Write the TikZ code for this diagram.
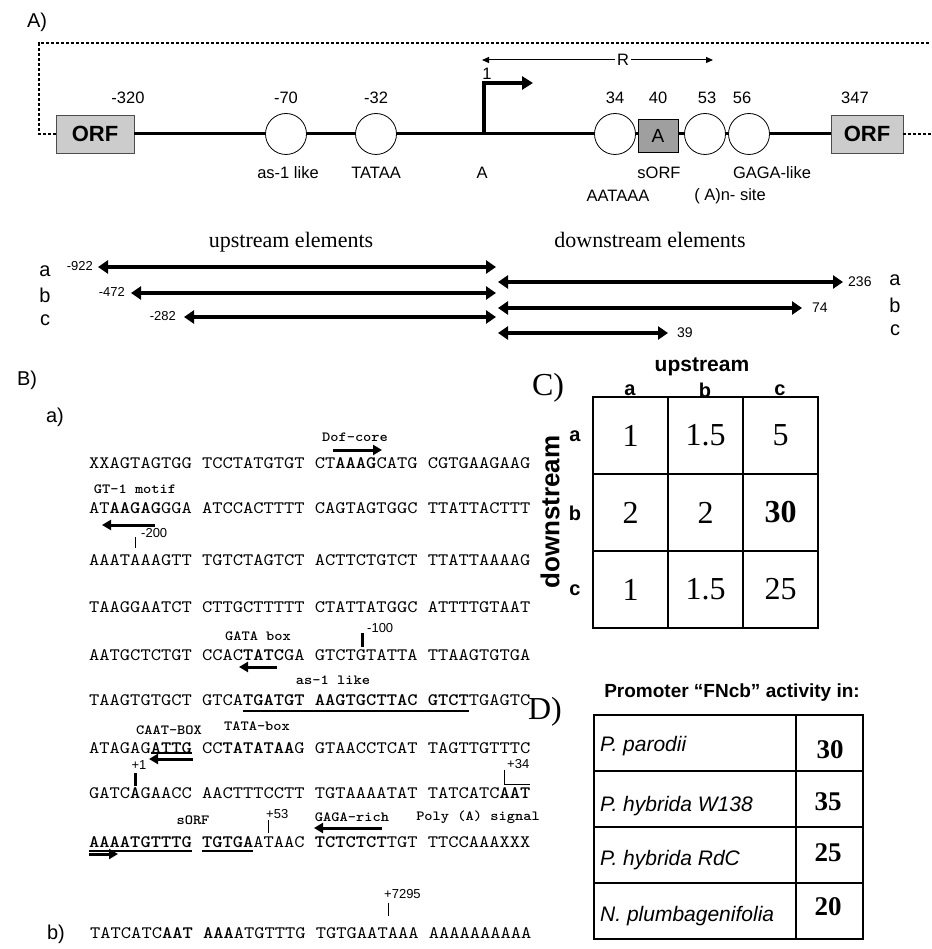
\documentclass[tikz,border=0pt]{standalone}
\usepackage{fontspec}
\setmainfont{Liberation Sans}
\newfontfamily\timesfont{Liberation Serif}
\newfontfamily\seqfont{lmmono10-regular.otf}[BoldFont=lmmonolt10-bold.otf, FakeStretch=1.12]
\usetikzlibrary{arrows.meta}

\newcommand{\setsz}[1]{\fontsize{#1}{#1}\selectfont}
% ascissa della lettera i-esima di una riga di sequenza
\newcommand{\chx}[1]{89+10.26*(#1)}

\begin{document}
\begin{tikzpicture}[x=1pt, y=-1pt,
        % Stile per le etichette dei pannelli
        panel/.style={font=\setsz{20}, inner sep=0pt},
        bigpanel/.style={font=\timesfont\setsz{32}, inner sep=0pt},
        % Stile per i box ORF (grigio chiaro)
        orf/.style={rectangle, draw=gray!60!black, fill=gray!40, font=\bfseries\setsz{22}, minimum width=78pt, minimum height=38pt, inner sep=0pt},
        % Stile per gli elementi del promotore (cerchi bianchi)
        elem/.style={circle, draw=black, fill=white, minimum size=41pt, inner sep=0pt, line width=0.8pt},
        sorfbox/.style={rectangle, draw=black, fill=gray!75, minimum width=40pt, minimum height=33pt, font=\setsz{19}, inner sep=0pt},
        num/.style={font=\setsz{16.5}, inner sep=0pt},
        small/.style={font=\setsz{13}, inner sep=0pt},
        serifhead/.style={font=\timesfont\setsz{22}, inner sep=0pt},
        letter/.style={font=\setsz{20}, inner sep=0pt},
        dashline/.style={line width=1.2pt, dash pattern=on 3pt off 2pt},
        % Frecce
        dbl/.style={line width=4pt, {Triangle[length=10pt,width=13pt]}-{Triangle[length=10pt,width=13pt]}},
        thinarr/.style={line width=1pt, -{Triangle[length=7pt,width=6pt]}},
        startarr/.style={line width=3.5pt, -{Triangle[length=11pt,width=13pt]}},
        % Sequenza (sezione B)
        seq/.style={anchor=west, inner sep=0pt, font=\seqfont\setsz{17.45}},
        motif/.style={inner sep=0pt, font=\seqfont\bfseries\setsz{14}},
        posnum/.style={inner sep=0pt, font=\setsz{13}},
        seqarr/.style={line width=3pt, -{Triangle[length=9pt,width=10pt]}},
        postick/.style={line width=0.8pt},
        boldtick/.style={line width=3pt},
        uline/.style={line width=1.2pt},
        % Tabelle C e D
        cell/.style={rectangle, draw=black, line width=1.3pt, minimum width=75pt, minimum height=77pt, inner sep=0pt, font=\timesfont\setsz{32}},
        hdr/.style={font=\bfseries\setsz{20}, inner sep=0pt},
        dcell/.style={rectangle, draw=black, line width=1.3pt, minimum height=56pt, inner sep=0pt},
        species/.style={anchor=west, font=\itshape\setsz{21}, inner sep=0pt},
        score/.style={font=\timesfont\bfseries\setsz{27}, inner sep=0pt}
    ]
    \useasboundingbox (0,0) rectangle (931,949);

    % --- A) MAPPA DEL GENE ---
    \node[panel] (labA) at (37,22) {A)};
    \node[orf] (orfL) at (95,134) {ORF};
    \node[orf, minimum width=72pt] (orfR) at (867,134) {ORF};
    \draw[line width=3pt] (orfL) -- (orfR);

    % linea tratteggiata
    \coordinate (dBL) at (39,134);
    \coordinate (dTL) at (39,43);
    \coordinate (dTR) at (931,43);
    \coordinate (dR) at (931,134);
    \draw[dashline] (orfL.west) -- (dBL) -- (dTL) -- (dTR);
    \draw[dashline] (orfR.east) -- (dR);

    % elementi
    \node[elem] (as1) at (286,134) {};
    \node[elem] (tata) at (376,134) {};
    \node[elem] (aat) at (615,134) {};
    \node[sorfbox] (sorf) at (658,136) {A};
    \node[elem] (polya) at (705,134) {};
    \node[elem] (gaga) at (749,134) {};

    % inizio della trascrizione
    \coordinate (tss) at (484,134);
    \coordinate (tssTop) at (484,83);
    \coordinate (tssTip) at (533,83);
    \draw[startarr] (tss) -- (tssTop) -- (tssTip);
    \node[num] (one) at (487,74) {1};

    % regione R
    \node[num, fill=white, inner sep=2pt] (R) at (623,60) {R};
    \coordinate (rL) at (482,60);
    \coordinate (rR) at (713,60);
    \draw[thinarr] (R) -- (rL);
    \draw[thinarr] (R) -- (rR);

    % posizioni
    \node[num] (p320) at (128,98) {-320};
    \node[num] (p70) at (286,98) {-70};
    \node[num] (p32) at (376,98) {-32};
    \node[num] (p34) at (615,98) {34};
    \node[num] (p40) at (658,98) {40};
    \node[num] (p53) at (707,98) {53};
    \node[num] (p56) at (742,98) {56};
    \node[num] (p347) at (855,98) {347};

    % nomi degli elementi
    \node[num] (nAs1) at (288,173) {as-1 like};
    \node[num] (nTata) at (376,173) {TATAA};
    \node[num] (nA) at (482,173) {A};
    \node[num] (nSorf) at (659,173) {sORF};
    \node[num] (nGaga) at (772,173) {GAGA-like};
    \node[num] (nAat) at (618,196) {AATAAA};
    \node[num] (nPa) at (730,196) {( A)n- site};

    % --- ELEMENTI UPSTREAM / DOWNSTREAM ---
    \node[serifhead] (upT) at (291,242) {upstream elements};
    \node[serifhead] (dnT) at (650,240) {downstream elements};

    \coordinate (uA1) at (98,267);  \coordinate (uA2) at (496,267);
    \coordinate (uB1) at (131,293); \coordinate (uB2) at (496,293);
    \coordinate (uC1) at (184,317); \coordinate (uC2) at (496,317);
    \draw[dbl] (uA1) -- (uA2);
    \draw[dbl] (uB1) -- (uB2);
    \draw[dbl] (uC1) -- (uC2);
    \node[small, anchor=east] (u922) at (93,266) {-922};
    \node[small, anchor=east] (u472) at (125,292) {-472};
    \node[small, anchor=east] (u282) at (176,316) {-282};
    \node[letter] (la) at (45,271) {a};
    \node[letter] (lb) at (45,295) {b};
    \node[letter] (lc) at (45,320) {c};

    \coordinate (dA1) at (498,282); \coordinate (dA2) at (843,282);
    \coordinate (dB1) at (498,308); \coordinate (dB2) at (802,308);
    \coordinate (dC1) at (498,333); \coordinate (dC2) at (668,333);
    \draw[dbl] (dA1) -- (dA2);
    \draw[dbl] (dB1) -- (dB2);
    \draw[dbl] (dC1) -- (dC2);
    \node[small, anchor=west, font=\setsz{14}] (d236) at (848,282) {236};
    \node[small, anchor=west, font=\setsz{14}] (d74) at (812,308) {74};
    \node[small, anchor=west, font=\setsz{14}] (d39) at (677,333) {39};
    \node[letter] (ra) at (895,280) {a};
    \node[letter] (rb) at (895,305) {b};
    \node[letter] (rc) at (895,330) {c};

    % --- B) SEQUENZA ---
    \node[panel] (labB) at (27,380) {B)};
    \node[panel] (laba) at (55,417) {a)};

    \node[seq] (s1) at (89,463) {XXAGTAGTGG TCCTATGTGT CT\textbf{AAAG}CATG CGTGAAGAAG};
    \node[seq] (s2) at (89,508) {AT\textbf{AAGAG}GGA ATCCACTTTT CAGTAGTGGC TTATTACTTT};
    \node[seq] (s3) at (89,560) {AAATAAAGTT TGTCTAGTCT ACTTCTGTCT TTATTAAAAG};
    \node[seq] (s4) at (89,607) {TAAGGAATCT CTTGCTTTTT CTATTATGGC ATTTTGTAAT};
    \node[seq] (s5) at (89,655) {AATGCTCTGT CCAC\textbf{TATC}GA GTCTGTATTA TTAAGTGTGA};
    \node[seq] (s6) at (89,700) {TAAGTGTGCT GTCA\textbf{TGATGT AAGTGCTTAC GTCT}TGAGTC};
    \node[seq] (s7) at (89,748) {ATAGAG\textbf{ATTG} CC\textbf{TATATAA}G GTAACCTCAT TAGTTGTTTC};
    \node[seq] (s8) at (89,793) {GATC\textbf{A}GAACC AACTTTCCTT TGTAAAATAT TATCATC\textbf{AAT}};
    \node[seq] (s9) at (89,842) {\textbf{AAAATGTTTG TGTGA}ATAAC \textbf{TCTCTCT}TGT TTCCAAAXXX};

    % motivi
    \node[motif] (mDof) at (355,437) {Dof-core};
    \node[motif] (mGt) at (135,489) {GT-1 motif};
    \node[motif] (mGata) at (258,636) {GATA box};
    \node[motif] (mAs1) at (333,680) {as-1 like};
    \node[motif] (mCaat) at (169,730) {CAAT-BOX};
    \node[motif] (mTata) at (257,726) {TATA-box};
    \node[motif] (mSorf) at (193,820) {sORF};
    \node[motif] (mGaga) at (352,817) {GAGA-rich};
    \node[motif] (mPoly) at (478,817) {Poly (A) signal};

    % frecce dei motivi
    \coordinate (dofA) at (333,450);  \coordinate (dofB) at (382,450);
    \coordinate (gtA) at (155,525);   \coordinate (gtB) at (102,525);
    \coordinate (gataA) at (277,667); \coordinate (gataB) at (239,667);
    \coordinate (caatA) at (193,759); \coordinate (caatB) at (149,759);
    \coordinate (gagaA) at (382,828); \coordinate (gagaB) at (314,828);
    \coordinate (sorfA) at (89,854);  \coordinate (sorfB) at (118,854);
    \draw[seqarr] (dofA) -- (dofB);
    \draw[seqarr] (gtA) -- (gtB);
    \draw[seqarr] (gataA) -- (gataB);
    \draw[seqarr] (caatA) -- (caatB);
    \draw[seqarr] (gagaA) -- (gagaB);
    \draw[seqarr] (sorfA) -- (sorfB);

    % sottolineature
    \draw[uline] ({\chx{15}},711) -- ({\chx{37}},711);
    \draw[uline] ({\chx{6}},753) -- ({\chx{10}},753);
    \draw[uline] ({\chx{0}},851) -- ({\chx{10}},851);
    \draw[uline] ({\chx{11}},851) -- ({\chx{16}},851);

    % posizioni nella sequenza
    \draw[postick] ({\chx{4.5}},537) -- ({\chx{4.5}},548);
    \node[posnum, anchor=west] (q200) at (141,533) {-200};
    \draw[boldtick] (362,633) -- (362,647);
    \node[posnum, anchor=west] (q100) at (367,628) {-100};
    \node[posnum] (q1) at (139,765) {+1};
    \draw[boldtick] ({\chx{4.5}},773) -- ({\chx{4.5}},786);
    \node[posnum, anchor=west] (q34) at (507,764) {+34};
    \draw[postick] ({\chx{40.5}},770) -- ({\chx{40.5}},784) -- ({\chx{43}},784);
    \node[posnum, anchor=west] (q53) at (266,814) {+53};
    \draw[postick] ({\chx{17.5}},820) -- ({\chx{17.5}},833);

    % b) sito di poliadenilazione
    \node[panel] (labb) at (56,934) {b)};
    \node[posnum, anchor=west] (q7295) at (384,894) {+7295};
    \draw[postick] (388,903) -- (388,916);
    \node[seq] (s10) at (90,933) {TATCATC\textbf{AAT AAA}ATGTTTG TGTGAATAAA AAAAAAAAAA};

    % --- C) TABELLA ---
    \node[bigpanel] (labC) at (548,388) {C)};
    \node[hdr, font=\bfseries\setsz{21}] (hUp) at (702,367) {upstream};
    \node[hdr, rotate=90, font=\bfseries\setsz{26}] (hDown) at (550,512) {downstream};
    \node[hdr] (cha) at (630,390) {a};
    \node[hdr] (chb) at (705,390) {b};
    \node[hdr] (chc) at (780,390) {c};
    \node[hdr] (cra) at (575,436) {a};
    \node[hdr] (crb) at (575,513) {b};
    \node[hdr] (crc) at (575,590) {c};

    \node[cell] (c11) at (630.5,435.5) {1};
    \node[cell] (c12) at (705.5,435.5) {1.5};
    \node[cell] (c13) at (780.5,435.5) {5};
    \node[cell] (c21) at (630.5,512.5) {2};
    \node[cell] (c22) at (705.5,512.5) {2};
    \node[cell] (c23) at (780.5,512.5) {\textbf{30}};
    \node[cell] (c31) at (630.5,589.5) {1};
    \node[cell] (c32) at (705.5,589.5) {1.5};
    \node[cell] (c33) at (780.5,589.5) {25};

    % --- D) TABELLA ---
    \node[bigpanel] (labD) at (545,712) {D)};
    \node[hdr, font=\bfseries\setsz{19}] (hProm) at (732,693) {Promoter “FNcb” activity in:};

    \node[dcell, minimum width=202pt] (n1) at (695,743) {};
    \node[dcell, minimum width=202pt] (n2) at (695,799) {};
    \node[dcell, minimum width=202pt] (n3) at (695,855) {};
    \node[dcell, minimum width=202pt] (n4) at (695,911) {};
    \node[dcell, minimum width=67pt] (v1) at (829.5,743) {};
    \node[dcell, minimum width=67pt] (v2) at (829.5,799) {};
    \node[dcell, minimum width=67pt] (v3) at (829.5,855) {};
    \node[dcell, minimum width=67pt] (v4) at (829.5,911) {};

    \node[species] (sp1) at (600,746) {P.\ parodii};
    \node[species] (sp2) at (600,806) {P.\ hybrida W138};
    \node[species] (sp3) at (600,860) {P.\ hybrida RdC};
    \node[species] (sp4) at (600,916) {N.\ plumbagenifolia};
    \node[score] (sc1) at (830,750) {30};
    \node[score] (sc2) at (828,802) {35};
    \node[score] (sc3) at (828,853) {25};
    \node[score] (sc4) at (828,907) {20};

\end{tikzpicture}
\end{document}
